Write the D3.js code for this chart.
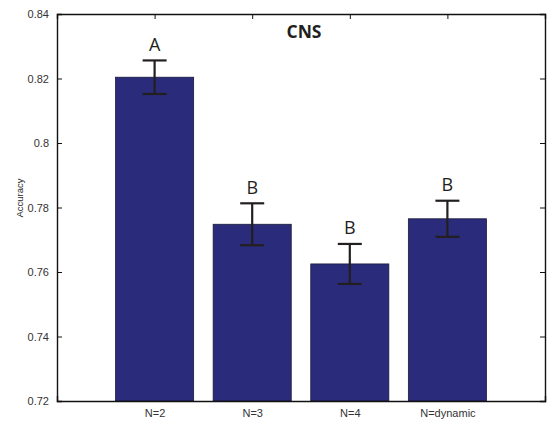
<!DOCTYPE html>
<html>
<head>
<meta charset="utf-8">
<script src="https://cdn.jsdelivr.net/npm/d3@7"></script>
<style>
  html, body { margin: 0; padding: 0; background: #fff; }
  svg { display: block; }
</style>
</head>
<body>
<svg id="chart" width="551" height="423"></svg>
<script>
// Mean accuracy per configuration, with error bar half-widths and significance groups
const categories = ["N=2", "N=3", "N=4", "N=dynamic"];
const accuracy = [0.8204, 0.7748, 0.7625, 0.7765];
const errorHalf = [0.0052, 0.0065, 0.0062, 0.0056];
const groupLetters = ["A", "B", "B", "B"];
const yTicks = [0.72, 0.74, 0.76, 0.78, 0.8, 0.82, 0.84];
const yTickLabels = ["0.72", "0.74", "0.76", "0.78", "0.8", "0.82", "0.84"];
const chartTitle = "CNS";
const yTitle = "Accuracy";

const svg = d3.select("#chart");
const m = { left: 57, right: 545, top: 14, bottom: 401 };

// Slot positions 0..5, bars at 1..4 (width 0.8 of a slot)
const x = d3.scaleLinear().domain([0, categories.length + 1]).range([m.left, m.right]);
const y = d3.scaleLinear().domain([0.72, 0.84]).range([m.bottom, m.top]);
const barW = (x(1) - x(0)) * 0.8;

const barColor = "#2a2c7b";
const inkColor = "#231f20";

// Bars
svg.append("g").selectAll("rect")
  .data(accuracy)
  .join("rect")
  .attr("x", (d, i) => x(i + 1) - barW / 2)
  .attr("y", d => y(d))
  .attr("width", barW)
  .attr("height", d => y(0.72) - y(d))
  .attr("fill", barColor)
  .attr("stroke", "#1a1a3a")
  .attr("stroke-width", 0.8);

// Error bars
const capW = 24;
const eg = svg.append("g").attr("stroke", inkColor).attr("stroke-width", 2.2).attr("fill", "none");
accuracy.forEach((v, i) => {
  const cx = x(i + 1);
  const hi = y(v + errorHalf[i]);
  const lo = y(v - errorHalf[i]);
  eg.append("line").attr("x1", cx).attr("x2", cx).attr("y1", hi).attr("y2", lo);
  eg.append("line").attr("x1", cx - capW / 2).attr("x2", cx + capW / 2).attr("y1", hi).attr("y2", hi);
  eg.append("line").attr("x1", cx - capW / 2).attr("x2", cx + capW / 2).attr("y1", lo).attr("y2", lo);
});

// Group letters above error bars
svg.append("g").selectAll("text")
  .data(groupLetters)
  .join("text")
  .attr("x", (d, i) => x(i + 1))
  .attr("y", (d, i) => y(accuracy[i] + errorHalf[i]) - 9.5)
  .attr("text-anchor", "middle")
  .attr("font-family", "'Open Sans', sans-serif")
  .attr("font-size", 18)
  .attr("fill", inkColor)
  .text(d => d);

// Axes box
const tickFont = "'Liberation Sans', Arial, sans-serif";
const yAxisL = d3.axisLeft(y).tickValues(yTicks).tickFormat((d, i) => yTickLabels[i]).tickSize(-5).tickPadding(8);
const gL = svg.append("g").attr("transform", `translate(${m.left},0)`).call(yAxisL);
const yAxisR = d3.axisRight(y).tickValues(yTicks).tickFormat("").tickSize(-5);
const gR = svg.append("g").attr("transform", `translate(${m.right},0)`).call(yAxisR);

const xAxisB = d3.axisBottom(x).tickValues(d3.range(1, categories.length + 1))
  .tickFormat(d => categories[d - 1]).tickSize(-5).tickPadding(8);
const gB = svg.append("g").attr("transform", `translate(0,${m.bottom})`).call(xAxisB);
const xAxisT = d3.axisTop(x).tickValues(d3.range(1, categories.length + 1)).tickFormat("").tickSize(-5);
const gT = svg.append("g").attr("transform", `translate(0,${m.top})`).call(xAxisT);

[gL, gR, gB, gT].forEach(g => {
  g.select(".domain").attr("stroke", "#111").attr("stroke-width", 1.4);
  g.selectAll(".tick line").attr("stroke", "#111").attr("stroke-width", 1);
  g.selectAll(".tick text").attr("font-family", tickFont).attr("font-size", 11).attr("fill", "#333");
});
// hide end ticks that sit on the box corners
gL.selectAll(".tick line").filter(d => d === 0.72 || d === 0.84).remove();
gR.selectAll(".tick line").filter(d => d === 0.72 || d === 0.84).remove();
gB.selectAll(".tick line").remove();

// Title
svg.append("text")
  .attr("x", 304)
  .attr("y", 37.5)
  .attr("text-anchor", "middle")
  .attr("font-family", "'Open Sans', sans-serif")
  .attr("font-weight", "bold")
  .attr("font-size", 17.5)
  .attr("fill", inkColor)
  .text(chartTitle);

// Y-axis title
svg.append("text")
  .attr("transform", "translate(23,198) rotate(-90)")
  .attr("text-anchor", "middle")
  .attr("font-family", tickFont)
  .attr("font-size", 9.5)
  .attr("fill", "#222")
  .text(yTitle);
</script>
</body>
</html>
